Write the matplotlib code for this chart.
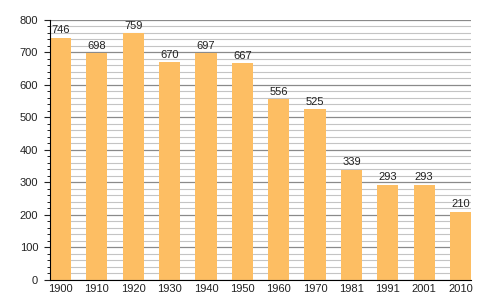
import matplotlib
matplotlib.use('Agg')
import matplotlib.pyplot as plt
from matplotlib.ticker import MultipleLocator
import numpy as np

plt.rcParams['font.family'] = ['Liberation Sans', 'DejaVu Sans']

years = ['1900', '1910', '1920', '1930', '1940', '1950', '1960', '1970', '1981', '1991', '2001', '2010']
population = [746, 698, 759, 670, 697, 667, 556, 525, 339, 293, 293, 210]

fig = plt.figure(figsize=(5, 3), dpi=100)
ax = fig.add_axes([0.1, 0.0667, 0.842, 0.8667])

x = np.arange(len(years))
ax.bar(x, population, width=0.58, color='#fdbe63', zorder=3)

# value labels over the bars
for xi, v in zip(x, population):
    ax.text(xi, v + 8, str(v), ha='center', va='bottom', fontsize=8, color='#222222', zorder=4)

ax.set_xlim(-0.29, len(years) - 0.71)
ax.set_ylim(0, 800)
ax.set_xticks(x)
ax.set_xticklabels(years)
ax.yaxis.set_major_locator(MultipleLocator(100))
ax.yaxis.set_minor_locator(MultipleLocator(20))

ax.grid(axis='y', which='major', color='#8a8a8a', linewidth=0.9, zorder=1)
ax.grid(axis='y', which='minor', color='#c4c4c4', linewidth=0.8, zorder=1)

for s in ['top', 'right']:
    ax.spines[s].set_visible(False)
ax.spines['left'].set_zorder(5)
ax.spines['bottom'].set_zorder(5)

ax.tick_params(axis='y', which='major', length=4.5, labelsize=8, pad=4, colors='#222222')
ax.tick_params(axis='y', which='minor', length=2.5)
ax.tick_params(axis='x', length=0, labelsize=8, pad=3, labelcolor='#222222')

fig.savefig('out.png', dpi=100)
